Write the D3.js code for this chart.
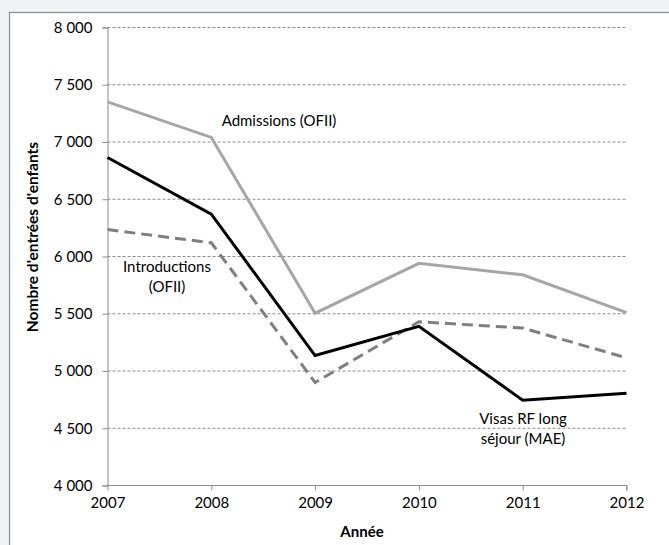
<!DOCTYPE html>
<html><head><meta charset="utf-8">
<script src="https://cdn.jsdelivr.net/npm/d3@7"></script>
<style>
html,body{margin:0;padding:0;background:#f1f2f4;}
svg{display:block;}
</style></head>
<body>
<script>
const years = [2007, 2008, 2009, 2010, 2011, 2012];
const admissions = [7350, 7040, 5505, 5940, 5840, 5510];
const introductions = [6235, 6120, 4900, 5430, 5375, 5115];
const visas = [6865, 6370, 5135, 5390, 4745, 4805];
const yTicks = [4000, 4500, 5000, 5500, 6000, 6500, 7000, 7500, 8000];

const W = 669, H = 545;
const svg = d3.select("body").append("svg").attr("width", W).attr("height", H);
svg.append("rect").attr("x", 9.5).attr("y", 12.5).attr("width", W + 20).attr("height", H + 20)
  .attr("fill", "#fff").attr("stroke", "#8c8c8c").attr("stroke-width", 1.2);

const font = "Lato, 'Open Sans', sans-serif";
const FS = 15;
const x = d3.scaleLinear().domain([2007, 2012]).range([107.5, 626.5]);
const y = d3.scaleLinear().domain([4000, 8000]).range([485.5, 27.5]);

// gridlines
svg.append("g").selectAll("line").data(yTicks.filter(d => d > 4000)).join("line")
  .attr("x1", x(2007)).attr("x2", x(2012)).attr("y1", d => y(d)).attr("y2", d => y(d))
  .attr("stroke", "#8a8a8a").attr("stroke-width", 1).attr("stroke-dasharray", "3,2");

const fmt = d => d3.format(",")(d).replace(",", " ");
const yAxis = svg.append("g").attr("transform", `translate(${x(2007)},0)`)
  .call(d3.axisLeft(y).tickValues(yTicks).tickSize(5).tickPadding(10).tickFormat(fmt));
const xAxis = svg.append("g").attr("transform", `translate(0,${y(4000)})`)
  .call(d3.axisBottom(x).tickValues(years).tickSize(5).tickPadding(7).tickFormat(d3.format("d")));
[yAxis, xAxis].forEach(a => {
  a.select(".domain").attr("stroke", "#8c8c8c");
  a.selectAll(".tick line").attr("stroke", "#8c8c8c");
  a.selectAll("text").attr("font-family", font).attr("font-size", FS).attr("fill", "#000");
});
xAxis.select(".domain").attr("d", `M${x(2007)},0H${x(2012)}V5`);

const line = d3.line().x((d, i) => x(years[i])).y(d => y(d));
const series = [
  {v: admissions, c: "#a6a6a6", dash: null},
  {v: introductions, c: "#7f7f7f", dash: "11,6"},
  {v: visas, c: "#000", dash: null}
];
series.forEach(s => {
  svg.append("path").datum(s.v).attr("d", line).attr("fill", "none")
    .attr("stroke", s.c).attr("stroke-width", 3).attr("stroke-linejoin", "miter")
    .attr("stroke-dasharray", s.dash);
});

// labels
const lab = (lines, cx, cy) => {
  const t = svg.append("text").attr("font-family", font).attr("font-size", FS)
    .attr("text-anchor", "middle").attr("fill", "#000");
  lines.forEach((l, i) => t.append("tspan").attr("x", cx).attr("y", cy + i * 19.5).text(l));
};
lab(["Admissions (OFII)"], 279, 126);
lab(["Introductions", "(OFII)"], 167, 272);
lab(["Visas RF long", "séjour (MAE)"], 523, 424);

svg.append("text").attr("font-family", font).attr("font-size", FS).attr("font-weight", "bold")
  .attr("text-anchor", "middle").attr("x", 362).attr("y", 537).text("Année");
svg.append("text").attr("font-family", font).attr("font-size", FS + 0.5).attr("font-weight", "bold")
  .attr("text-anchor", "middle").attr("transform", "translate(38,237) rotate(-90)")
  .text("Nombre d'entrées d'enfants");
</script>
</body></html>
